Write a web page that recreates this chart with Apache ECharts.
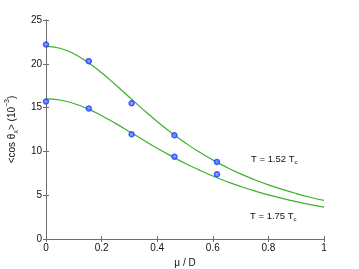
<!DOCTYPE html>
<html><head><meta charset="utf-8">
<script src="https://cdn.jsdelivr.net/npm/echarts@6/dist/echarts.min.js"></script>
<style>html,body{margin:0;padding:0;background:#fff}#c{width:359px;height:269px}</style>
</head><body><div id="c"></div>
<script>
var curveX = [0,0.05,0.1,0.15,0.2,0.25,0.3,0.35,0.4,0.45,0.5,0.55,0.6,0.65,0.7,0.75,0.8,0.85,0.9,0.95,1.0];
var curveHigh = [22.00,21.78,21.15,20.18,18.97,17.60,16.18,14.77,13.41,12.15,11.00,9.95,9.02,8.18,7.43,6.77,6.18,5.66,5.19,4.77,4.40];
var curveLow = [16.00,15.87,15.47,14.86,14.08,13.20,12.25,11.30,10.36,9.48,8.65,7.89,7.19,6.57,6.00,5.49,5.04,4.63,4.26,3.93,3.64];
var pointX = [0,0.154,0.308,0.462,0.615];
var pointHigh = [22.2,20.3,15.5,11.85,8.8];
var pointLow = [15.7,14.9,11.95,9.4,7.4];
var xTicks = [0,0.2,0.4,0.6,0.8,1];
var yTicks = [0,5,10,15,20,25];

function pairs(xs, ys){ return xs.map(function(x,i){ return [x, ys[i]]; }); }

var font = 'Liberation Sans';
var green = '#3cb02a';
var blue = '#1f3cff';
var axisCol = '#6e6e6e';

var chart = echarts.init(document.getElementById('c'));
var axisCommon = {
  axisLine: {show: true, lineStyle: {color: axisCol, width: 1}},
  axisTick: {show: true, inside: true, length: 3, lineStyle: {color: axisCol}},
  splitLine: {show: false}
};
chart.setOption({
  animation: false,
  textStyle: {fontFamily: font},
  grid: {left: 46, right: 35, top: 20, bottom: 30, containLabel: false, outerBoundsMode: 'none'},
  xAxis: [
    Object.assign({type: 'value', min: 0, max: 1, interval: 0.2,
      name: 'μ / D', nameLocation: 'middle', nameGap: 17,
      nameTextStyle: {fontFamily: font, fontSize: 10, color: '#111'},
      axisLabel: {fontFamily: font, fontSize: 10, color: '#111', margin: 4,
        formatter: function(v){ return xTicks.indexOf(+v.toFixed(1)) >= 0 ? String(+v.toFixed(1)) : ''; }}
    }, axisCommon),
    Object.assign({type: 'value', min: 0, max: 1, interval: 0.2, position: 'top',
      axisLabel: {show: false}}, axisCommon)
  ],
  yAxis: [
    Object.assign({type: 'value', min: 0, max: 25, interval: 5,
      name: '{n|<cos θ}{sub|x}{n|> (10}{sup|−3}{n|)}', nameLocation: 'middle', nameGap: 22, nameRotate: 90,
      nameTextStyle: {fontFamily: font, fontSize: 10, color: '#111',
        rich: {
          n: {fontFamily: font, fontSize: 10, color: '#111', lineHeight: 16, verticalAlign: 'middle'},
          sub: {fontFamily: font, fontSize: 7, color: '#111', lineHeight: 16, verticalAlign: 'bottom'},
          sup: {fontFamily: font, fontSize: 7, color: '#111', lineHeight: 16, verticalAlign: 'top'}
        }},
      axisLabel: {fontFamily: font, fontSize: 10, color: '#111', margin: 4,
        formatter: function(v){ return yTicks.indexOf(v) >= 0 ? String(v) : ''; }}
    }, axisCommon),
    Object.assign({type: 'value', min: 0, max: 25, interval: 5, position: 'right',
      axisLabel: {show: false}}, axisCommon)
  ],
  series: [
    {type: 'line', smooth: true, showSymbol: false, symbol: 'none', data: pairs(curveX, curveHigh),
      lineStyle: {color: green, width: 1.2}, z: 2},
    {type: 'line', smooth: true, showSymbol: false, symbol: 'none', data: pairs(curveX, curveLow),
      lineStyle: {color: green, width: 1.2}, z: 2},
    {type: 'scatter', data: pairs(pointX, pointHigh), symbol: 'circle', symbolSize: 5,
      itemStyle: {color: '#6f86ff', borderColor: blue, borderWidth: 1.5}, z: 3},
    {type: 'scatter', data: pairs(pointX, pointLow), symbol: 'circle', symbolSize: 5,
      itemStyle: {color: '#6f86ff', borderColor: blue, borderWidth: 1.5}, z: 3}
  ],
  graphic: [
    {type: 'text', left: 251, top: 154, style: {
      text: '{n|T = 1.52 T}{sub|c}', fontFamily: font,
      rich: {n: {fontFamily: font, fontSize: 9.5, fill: '#111', lineHeight: 12, verticalAlign: 'middle'},
             sub: {fontFamily: font, fontSize: 6, fill: '#111', lineHeight: 12, verticalAlign: 'bottom'}}}},
    {type: 'text', left: 250, top: 211, style: {
      text: '{n|T = 1.75 T}{sub|c}', fontFamily: font,
      rich: {n: {fontFamily: font, fontSize: 9.5, fill: '#111', lineHeight: 12, verticalAlign: 'middle'},
             sub: {fontFamily: font, fontSize: 6, fill: '#111', lineHeight: 12, verticalAlign: 'bottom'}}}}
  ]
});
</script></body></html>
